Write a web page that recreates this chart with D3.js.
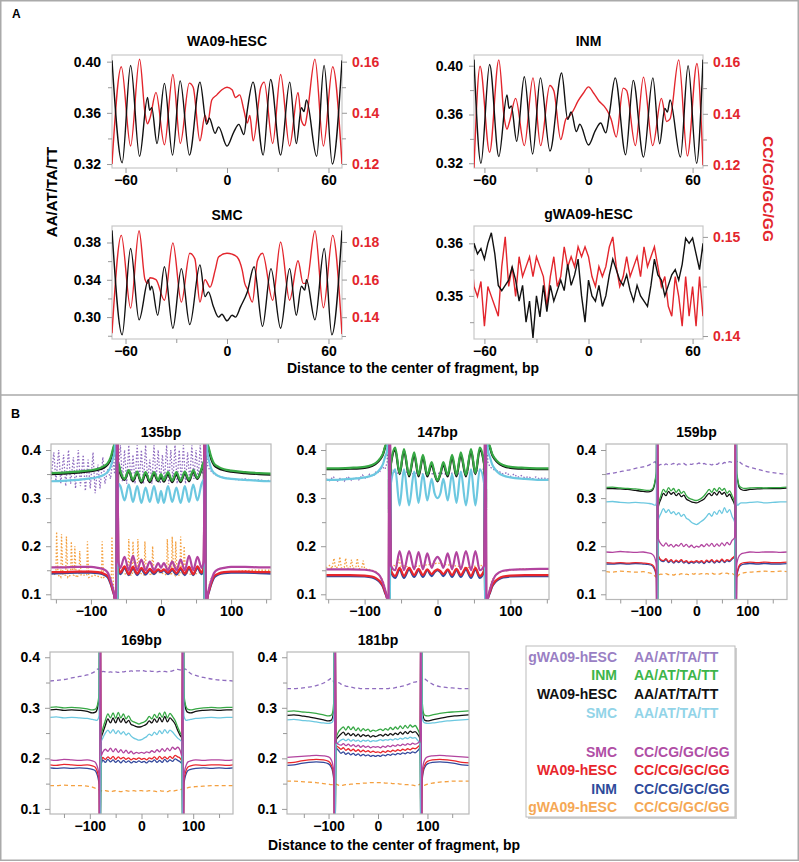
<!DOCTYPE html>
<html><head><meta charset="utf-8">
<script src="https://cdn.jsdelivr.net/npm/d3@7"></script>
<style>
body{margin:0;background:#fff;}
text{font-family:"Liberation Sans",Arial,Helvetica,sans-serif;font-weight:bold;}
</style></head>
<body><svg id="chart" width="799" height="862"></svg>
<script>
// ---------- panel A data : [bp, frequency] ----------
var wa09Black = [[-68,.401],[-62,.321],[-57,.397],[-51.7,.326],[-47,.372],[-45.8,.362],[-44.5,.364],[-41.4,.336],[-37,.383],[-32.2,.327],[-27.7,.385],[-22.2,.327],[-16,.384],[-12,.351],[-10.5,.356],[-7,.344],[-5,.349],[0,.334],[4,.345],[7,.351],[10,.343],[12,.362],[15.4,.384],[21.4,.327],[25.8,.386],[31.7,.327],[37.1,.384],[41,.336],[44,.364],[45.5,.361],[47,.370],[53,.326],[57.4,.397],[62.3,.320],[68,.401]];
var wa09Red = [[-68,.120],[-62.5,.158],[-57,.127],[-51.7,.161],[-48.5,.140],[-47,.1357],[-45.5,.138],[-42,.148],[-37,.1275],[-32,.155],[-27.6,.128],[-22.3,.1516],[-20,.150],[-16,.129],[-13,.139],[-11.5,.136],[-9,.145],[-6,.147],[-3,.149],[0,.150],[3,.149],[5,.146],[7.5,.147],[10,.141],[12,.136],[13.5,.139],[15.5,.129],[20,.150],[22,.152],[27,.128],[31.7,.155],[37,.127],[42,.148],[44,.137],[46,.135],[47.5,.140],[52,.161],[57,.127],[62.5,.158],[68,.120]];
var inmBlack = [[-66,.405],[-62,.320],[-57,.401],[-51.7,.3255],[-47,.376],[-45.8,.365],[-44.5,.367],[-41.4,.338],[-37,.391],[-32.2,.3276],[-27.7,.390],[-22.2,.330],[-15.5,.394],[-12,.356],[-10,.362],[-7,.346],[-5,.352],[0,.335],[4,.347],[7,.353],[10,.345],[12,.360],[15.4,.390],[21.4,.327],[25.8,.388],[31.7,.325],[37.1,.390],[41,.336],[44,.365],[45.5,.362],[47,.372],[53,.325],[57.4,.400],[62.3,.320],[66,.405]];
var inmRed = [[-66,.119],[-62.5,.1585],[-57,.125],[-51.7,.161],[-48.5,.138],[-47,.134],[-45.5,.137],[-42,.146],[-37,.1276],[-32,.154],[-27.6,.1276],[-22.3,.151],[-20,.149],[-16,.130],[-13,.138],[-11,.139],[-9,.141],[-6,.145],[-3,.148],[0,.1505],[3,.148],[6,.145],[9,.143],[11,.141],[13,.138],[16,.131],[20,.150],[22,.149],[27,.1276],[31.7,.1543],[37,.1276],[42,.146],[45,.137],[47,.138],[52,.161],[57,.1236],[62.5,.1596],[66,.120]];
var smcBlack = [[-68,.393],[-62,.281],[-57,.3736],[-52,.297],[-46.5,.340],[-45.5,.329],[-44.5,.333],[-41,.302],[-37,.354],[-32,.288],[-27,.352],[-22,.292],[-16,.356],[-13,.322],[-11,.327],[-8,.311],[-5,.300],[-3,.303],[0,.296],[3,.302],[5,.300],[8,.311],[12,.327],[16,.354],[21,.290],[26,.352],[31.7,.288],[37,.352],[41,.302],[44,.333],[46,.329],[47,.340],[52,.297],[57.5,.3736],[62,.281],[68,.393]];
var smcRed = [[-68,.1315],[-62.5,.1835],[-57,.1448],[-52,.186],[-48.5,.160],[-47,.158],[-45.5,.161],[-42,.160],[-37,.149],[-32,.1795],[-27,.148],[-22,.174],[-19,.171],[-16,.148],[-13,.160],[-10,.156],[-7,.165],[-5,.172],[0,.174],[3,.1735],[6,.172],[9,.165],[10.5,.158],[12,.155],[15,.148],[18,.170],[21,.174],[27,.149],[31.7,.180],[37,.149],[42,.170],[45,.158],[47,.158],[52,.186],[57,.145],[62.5,.1835],[68,.131]];
var gBp = d3.range(-68, 69, 2);
var gBlack = [.3505,.360,.358,.359,.357,.360,.362,.358,.352,.351,.352,.353,.3555,.353,.349,.352,.345,.349,.342,.350,.346,.352,.347,.352,.349,.351,.353,.351,.356,.352,.354,.357,.350,.345,.353,.350,.349,.352,.348,.350,.354,.357,.355,.353,.352,.354,.351,.349,.352,.350,.349,.348,.352,.357,.354,.353,.350,.352,.354,.355,.353,.356,.361,.360,.361,.358,.355,.360,.350];
var gRed = [.149,.145,.144,.1455,.141,.145,.144,.143,.142,.147,.150,.145,.147,.144,.148,.146,.147,.148,.146,.148,.147,.146,.143,.146,.148,.145,.146,.149,.147,.148,.147,.149,.148,.149,.148,.146,.145,.147,.146,.147,.149,.150,.147,.145,.146,.148,.146,.147,.148,.146,.149,.147,.148,.149,.147,.145,.146,.143,.142,.146,.144,.141,.146,.142,.145,.141,.146,.142,.145];

// ---------- panel B data ----------
var grid135 = [-157,-140,-120,-100,-90,-82,-76,-72,-69,-66, -64,-63, -61,-58,-52,-46,-40,-34,-28,-22,-16,-10,-4,0,4,10,16,22,28,34,40,46,52,58,61, 63,64, 66,69,72,76,82,90,100,120,140,157];
var b135Black = [.350,.351,.353,.356,.359,.363,.370,.380,.395,.420, .6,0, .370,.352,.338,.356,.335,.352,.332,.350,.333,.350,.335,.345,.334,.350,.333,.350,.333,.352,.335,.355,.340,.360,.372, 0,.6, .420,.395,.380,.368,.362,.358,.355,.352,.350,.349];
var b135Green = [.352,.353,.355,.358,.361,.366,.373,.384,.400,.420, .6,0, .374,.356,.340,.358,.338,.355,.335,.354,.336,.354,.337,.350,.337,.354,.336,.354,.336,.355,.338,.358,.342,.362,.376, 0,.6, .420,.400,.384,.371,.365,.360,.357,.354,.352,.351];
var b135Cyan = [.335,.336,.338,.341,.344,.348,.355,.365,.380,.400, .6,0, .330,.325,.295,.328,.292,.325,.290,.322,.292,.325,.290,.315,.290,.325,.292,.322,.290,.325,.292,.328,.295,.330,.338, 0,.6, .400,.375,.360,.352,.346,.342,.340,.338,.336,.335];
var b135Magenta = [.156,.156,.157,.157,.155,.152,.145,.130,.115,.090, 0,.6, .170,.155,.178,.150,.180,.150,.172,.150,.168,.150,.165,.155,.165,.150,.168,.150,.172,.150,.180,.150,.178,.155,.170, .6,0, .090,.115,.130,.145,.152,.155,.157,.157,.156,.156];
var b135Red = [.146,.146,.147,.147,.146,.143,.138,.125,.110,.090, 0,.6, .160,.145,.158,.142,.157,.143,.155,.144,.153,.145,.152,.148,.152,.145,.153,.144,.155,.143,.157,.142,.158,.145,.160, .6,0, .090,.110,.125,.138,.143,.146,.147,.147,.146,.146];
var b135Blue = [.143,.144,.145,.145,.144,.141,.135,.122,.108,.090, 0,.6, .155,.142,.155,.140,.154,.140,.152,.141,.150,.142,.150,.146,.150,.142,.150,.141,.152,.140,.154,.140,.155,.142,.155, .6,0, .090,.108,.122,.135,.141,.144,.145,.145,.144,.143];
var b135Purple = [[-157,.340],[-153,.395],[-150,.335],[-146,.400],[-143,.330],[-139,.390],[-136,.325],[-132,.400],[-129,.330],[-125,.385],[-122,.320],[-118,.400],[-115,.325],[-111,.390],[-108,.315],[-104,.380],[-101,.320],[-97,.395],[-94,.310],[-90,.370],[-87,.320],[-83,.385],[-80,.330],[-76,.360],[-72,.340],[-69,.380],[-66,.350],[-64,.6],[-63,0],
 [-61,.360],[-58,.410],[-55,.335],[-52,.400],[-49,.330],[-46,.410],[-43,.335],[-40,.390],[-37,.330],[-34,.410],[-31,.335],[-28,.400],[-25,.330],[-22,.410],[-19,.335],[-16,.380],[-13,.330],[-10,.410],[-7,.335],[-4,.400],[-1,.330],[2,.390],[5,.335],[8,.410],[11,.330],[14,.400],[17,.335],[20,.410],[23,.330],[26,.400],[29,.335],[32,.410],[35,.330],[38,.395],[41,.335],[44,.410],[47,.340],[50,.400],[53,.340],[56,.410],[59,.350],[61,.360],[63,0],[64,.6],
 [66,.370],[69,.360],[72,.355],[76,.350],[82,.345],[90,.343],[100,.340],[110,.338],[120,.340],[130,.337],[140,.338],[150,.336],[157,.337]];
var b135Orange = [[-157,.145],[-150,.140],[-149,.230],[-147,.140],[-143,.135],[-142,.225],[-140,.140],[-136,.140],[-135,.220],[-133,.135],[-129,.140],[-128,.210],[-126,.140],[-124,.140],[-123,.200],[-121,.135],[-117,.140],[-116,.190],[-114,.140],[-106,.140],[-105,.210],[-103,.135],[-95,.140],[-85,.135],[-84,.210],[-82,.135],[-74,.140],[-71,.130],[-70,.220],[-68,.120],[-66,.090],[-64,0],[-63,.6],
 [-61,.150],[-55,.145],[-47,.140],[-46,.215],[-44,.140],[-41,.140],[-40,.210],[-38,.145],[-34,.140],[-33,.215],[-31,.145],[-24,.140],[-23,.210],[-21,.145],[-13,.140],[-12,.200],[-10,.145],[0,.145],[8,.140],[9,.215],[11,.145],[15,.140],[16,.220],[18,.145],[20,.140],[21,.210],[23,.140],[27,.140],[28,.220],[30,.145],[32,.140],[33,.200],[35,.145],[45,.140],[55,.145],[61,.150],[63,.6],[64,0],
 [66,.090],[69,.120],[72,.135],[80,.140],[90,.145],[110,.148],[130,.150],[157,.150]];

var grid147 = [-153,-140,-120,-100,-90,-84,-79,-75,-72,-69, -67,-66, -64,-58,-52,-46,-39,-32,-26,-20,-14,-8,-4,0,4,8,14,20,26,32,39,46,52,58,64, 66,67, 69,72,75,79,84,90,100,120,140,153];
var b147Black = [.360,.360,.361,.363,.367,.372,.380,.390,.405,.420, .6,0, .370,.400,.350,.398,.345,.390,.345,.385,.345,.370,.350,.335,.350,.370,.345,.385,.345,.390,.345,.398,.350,.400,.370, 0,.6, .420,.405,.390,.380,.372,.367,.363,.361,.360,.360];
var b147Green = [.362,.362,.363,.365,.369,.374,.382,.392,.407,.420, .6,0, .372,.405,.352,.402,.348,.395,.348,.390,.348,.375,.352,.337,.352,.375,.348,.390,.348,.395,.348,.402,.352,.405,.372, 0,.6, .420,.407,.392,.382,.374,.369,.365,.363,.362,.362];
var b147Cyan = [.338,.338,.340,.343,.347,.352,.360,.370,.385,.400, .6,0, .330,.360,.285,.360,.285,.355,.290,.350,.295,.340,.310,.300,.310,.340,.295,.350,.290,.355,.285,.360,.285,.360,.330, 0,.6, .400,.385,.370,.360,.352,.347,.343,.340,.338,.338];
var b147Magenta = [.152,.152,.152,.151,.149,.145,.138,.125,.110,.090, 0,.6, .160,.150,.190,.150,.190,.152,.188,.152,.185,.155,.170,.178,.170,.155,.185,.152,.188,.152,.190,.150,.190,.150,.160, .6,0, .090,.110,.125,.138,.145,.149,.151,.152,.153,.153];
var b147Red = [.140,.140,.140,.139,.137,.133,.127,.118,.105,.090, 0,.6, .150,.138,.155,.138,.155,.140,.153,.140,.152,.142,.148,.152,.148,.142,.152,.140,.153,.140,.155,.138,.155,.138,.150, .6,0, .090,.105,.118,.127,.133,.137,.139,.140,.140,.140];
var b147Blue = [.138,.138,.138,.137,.135,.131,.125,.116,.103,.090, 0,.6, .148,.134,.152,.134,.152,.136,.150,.136,.150,.138,.146,.150,.146,.138,.150,.136,.150,.136,.152,.134,.152,.134,.148, .6,0, .090,.103,.116,.125,.131,.135,.137,.138,.138,.138];
var b147Purple = [[-153,.340],[-148,.336],[-143,.345],[-138,.334],[-133,.342],[-128,.335],[-123,.345],[-118,.337],[-113,.343],[-108,.338],[-103,.348],[-98,.340],[-93,.350],[-88,.345],[-84,.356],[-80,.352],[-76,.365],[-72,.360],[-69,.375],[-67,.6],[-66,0],
 [-64,.360],[-60,.355],[-52,.350],[-44,.355],[-36,.350],[-28,.352],[-20,.350],[-12,.352],[-4,.350],[4,.352],[12,.350],[20,.352],[28,.350],[36,.355],[44,.352],[52,.355],[60,.360],[64,.360],[66,0],[67,.6],
 [69,.375],[72,.365],[76,.360],[80,.358],[85,.355],[90,.350],[95,.353],[100,.345],[105,.350],[110,.343],[115,.347],[120,.342],[125,.345],[130,.340],[135,.344],[140,.340],[145,.342],[153,.340]];
var b147Orange = [[-153,.155],[-148,.160],[-145,.153],[-142,.175],[-140,.155],[-136,.157],[-134,.178],[-132,.155],[-128,.156],[-126,.175],[-124,.154],[-120,.155],[-118,.172],[-116,.154],[-112,.156],[-110,.175],[-108,.153],[-104,.155],[-102,.170],[-100,.153],[-95,.152],[-90,.150],[-85,.148],[-80,.140],[-75,.130],[-72,.115],[-69,.090],[-67,0],[-66,.6],
 [-64,.155],[-60,.160],[-56,.158],[-53,.172],[-50,.158],[-44,.160],[-40,.155],[-30,.158],[-20,.160],[-10,.162],[0,.165],[10,.162],[20,.160],[30,.158],[40,.155],[50,.158],[60,.160],[64,.155],[66,.6],[67,0],
 [69,.090],[72,.115],[75,.130],[80,.140],[85,.145],[90,.148],[100,.150],[110,.152],[120,.153],[130,.152],[140,.153],[153,.152]];

var grid159 = [-178,-165,-150,-135,-120,-105,-95,-88,-84,-81,-79, -78,-77, -75,-70,-65,-60,-55,-50,-45,-40,-35,-30,-25,-20,-15,-10,-5,0,5,10,15,20,25,30,35,40,45,50,55,60,65,70,75, 77,78, 79,81,84,88,95,105,120,135,150,165,178];
var b159Green = [.322,.323,.321,.320,.319,.317,.316,.318,.325,.340,.355, .6,0, .285,.305,.318,.312,.322, .315,.320,.312,.318,.310, .314,.305,.300,.298,.296, .295,.297,.300,.305,.312, .318,.312,.320,.314,.322, .316,.320,.310,.315,.305, .290, 0,.6, .355,.340,.326,.322,.320,.321,.322,.321,.322,.322,.323];
var b159Black = [.320,.320,.319,.318,.316,.314,.313,.315,.322,.336,.350, .6,0, .282,.298,.310,.305,.314, .308,.312,.305,.310,.303, .306,.298,.295,.292,.291, .290,.292,.295,.298,.305, .310,.305,.312,.306,.314, .308,.312,.303,.308,.298, .286, 0,.6, .350,.336,.322,.318,.316,.318,.319,.320,.320,.320,.321];
var b159Cyan = [.292,.293,.291,.290,.291,.290,.289,.288,.286,.285,.290, .6,0, .254,.268,.278,.270,.276, .268,.272,.265,.270,.262, .266,.258,.255,.250,.247, .245,.248,.252,.256,.262, .268,.262,.272,.266,.275, .268,.280,.270,.276,.262, .250, 0,.6, .290,.285,.288,.290,.290,.291,.292,.290,.291,.292,.292];
var b159Magenta = [.188,.187,.189,.188,.187,.188,.186,.184,.180,.172,.160, 0,.6, .215,.205,.200,.207,.200, .204,.198,.203,.200,.206, .199,.204,.198,.202,.197, .200,.198,.203,.199,.205, .200,.206,.199,.205,.200, .207,.201,.208,.203,.212, .218, .6,0, .160,.172,.180,.184,.186,.188,.187,.188,.188,.187,.188];
var b159Red = [.166,.165,.166,.165,.166,.165,.164,.162,.158,.150,.138, 0,.6, .180,.172,.170,.174,.168, .172,.167,.171,.168,.172, .167,.170,.166,.169,.167, .170,.167,.170,.166,.171, .168,.172,.167,.171,.168, .173,.168,.172,.170,.175, .180, .6,0, .138,.150,.160,.164,.166,.167,.166,.167,.166,.166,.167];
var b159Blue = [.163,.163,.164,.163,.164,.163,.162,.160,.155,.147,.135, 0,.6, .178,.170,.168,.172,.166, .170,.165,.169,.166,.170, .165,.168,.164,.167,.165, .168,.165,.168,.164,.169, .166,.170,.165,.169,.166, .171,.166,.170,.168,.173, .178, .6,0, .135,.147,.157,.161,.163,.164,.163,.164,.163,.163,.164];
var b159Orange = [.147,.146,.148,.147,.146,.147,.145,.143,.140,.137,.135, .135,.138, .140,.142,.141,.143,.141, .142,.140,.142,.141,.143, .140,.142,.141,.143,.142, .144,.142,.143,.141,.143, .142,.144,.142,.143,.142, .144,.143,.144,.142,.143, .140, .138,.135, .135,.138,.141,.143,.145,.146,.147,.148,.147,.148,.147];
var b159Purple = [.350,.352,.355,.358,.362,.365,.368,.372,.374,.376,.370, .370,.369, .368,.370,.368,.371,.369, .370,.372,.368,.371,.370, .372,.369,.371,.370,.372, .371,.373,.370,.372,.370, .371,.369,.372,.370,.373, .371,.374,.372,.376,.374, .372, .372,.375, .375,.378,.376,.372,.368,.364,.360,.356,.353,.351,.350];

var grid169 = [-177,-165,-150,-135,-120,-105,-95,-90,-87,-84,-82, -81,-80, -78,-75,-70,-65,-60,-55,-50,-45,-40,-35,-30,-25,-20,-15,-10,-5,0,5,10,15,20,25,30,35,40,45,50,55,60,65,70,75,78, 80,81, 82,84,87,90,95,105,120,135,150,165,177];
var b169Green = [.301,.302,.300,.301,.300,.298,.296,.297,.300,.312,.330, .6,0, .245, .258,.275,.288,.280,.290, .279,.291,.280,.288,.278, .284,.275,.272,.270,.268, .270,.272,.276,.283,.278, .287,.280,.290,.281,.292, .280,.289,.283,.275,.262, .250, .245, 0,.6, .330,.312,.300,.297,.296,.298,.300,.301,.300,.301,.301];
var b169Black = [.296,.297,.295,.296,.295,.293,.290,.291,.294,.305,.322, .6,0, .240, .250,.265,.278,.270,.280, .270,.281,.271,.279,.270, .275,.267,.265,.263,.262, .263,.265,.268,.274,.270, .278,.271,.281,.272,.283, .272,.280,.275,.268,.255, .245, .240, 0,.6, .322,.305,.294,.291,.290,.293,.295,.296,.295,.296,.296];
var b169Cyan = [.281,.282,.280,.281,.280,.279,.277,.276,.275,.278,.285, .6,0, .232, .240,.250,.256,.250,.257, .249,.255,.248,.253,.246, .250,.244,.240,.238,.236, .237,.240,.243,.248,.245, .252,.247,.255,.249,.257, .250,.256,.252,.246,.240, .236, .232, 0,.6, .285,.278,.275,.276,.277,.279,.280,.281,.280,.281,.281];
var b169Magenta = [.197,.196,.198,.197,.196,.197,.195,.193,.188,.178,.165, 0,.6, .205, .212,.218,.214,.220,.213, .219,.212,.217,.211,.216, .210,.214,.209,.212,.210, .212,.210,.213,.211,.215, .212,.217,.213,.219,.214, .220,.215,.222,.218,.222, .215, .205, .6,0, .165,.178,.188,.193,.195,.197,.196,.197,.197,.196,.197];
var b169Red = [.187,.186,.188,.187,.186,.187,.185,.183,.178,.168,.155, 0,.6, .195, .202,.198,.203,.199,.204, .198,.203,.199,.202,.198, .201,.197,.200,.198,.201, .198,.200,.197,.201,.199, .203,.198,.204,.199,.203, .199,.204,.200,.206,.203, .200, .195, .6,0, .155,.168,.178,.183,.185,.187,.186,.187,.187,.186,.187];
var b169Blue = [.181,.180,.181,.180,.181,.180,.178,.176,.171,.161,.148, 0,.6, .190, .197,.192,.198,.193,.197, .192,.196,.191,.196,.192, .195,.191,.194,.192,.195, .192,.194,.191,.195,.193, .197,.192,.196,.192,.198, .193,.197,.194,.199,.196, .193, .190, .6,0, .148,.161,.171,.176,.178,.180,.181,.180,.181,.180,.181];
var b169Orange = [.146,.146,.147,.146,.146,.145,.143,.141,.140,.139,.138, .138,.137, .136, .135,.136,.135,.134,.135, .136,.135,.134,.135,.136, .135,.135,.136,.135,.136, .136,.135,.135,.136,.135, .135,.134,.136,.135,.135, .134,.136,.135,.136,.137, .138, .139, .140,.141, .141,.140,.141,.142,.143,.144,.145,.146,.146,.146,.146];
var b169Purple = [.353,.354,.356,.359,.362,.365,.369,.372,.375,.377,.376, .375,.372, .370, .372,.371,.370,.371,.370, .371,.370,.372,.371,.372, .372,.373,.372,.373,.373, .374,.373,.372,.373,.372, .372,.371,.372,.371,.372, .371,.372,.373,.375,.376, .375, .374, .373,.375, .376,.377,.375,.372,.368,.364,.360,.357,.355,.354,.353];

var grid181 = [-184,-170,-155,-140,-125,-110,-100,-95,-92,-90,-89, -88,-87, -85,-80,-75,-70,-65,-60,-55,-50,-45,-40,-35,-30,-25,-20,-15,-10,-5,0,5,10,15,20,25,30,35,40,45,50,55,60,65,70,75,80,85, 87,88, 89,90,92,95,100,110,125,140,155,170,184];
var b181Green = [.293,.294,.292,.291,.289,.286,.284,.285,.290,.305,.320, .6,0, .238,.252, .258,.262,.256,.263,.257, .262,.255,.260,.254,.259, .255,.258,.253,.256,.254, .256,.258,.255,.259,.256, .261,.257,.262,.258,.264, .259,.265,.260,.266,.262, .265, .258,.245, 0,.6, .320,.305,.290,.285,.284,.286,.289,.291,.292,.293,.294];
var b181Black = [.285,.286,.284,.282,.279,.276,.274,.275,.280,.292,.305, .6,0, .235,.243, .248,.252,.246,.250,.245, .249,.244,.248,.243,.247, .244,.246,.242,.245,.243, .245,.247,.244,.248,.245, .249,.246,.250,.247,.252, .248,.253,.249,.254,.251, .253, .248,.238, 0,.6, .305,.292,.280,.275,.274,.276,.279,.282,.284,.285,.286];
var b181Cyan = [.276,.277,.275,.274,.272,.270,.269,.270,.272,.280,.290, .6,0, .226,.232, .236,.238,.235,.238,.234, .237,.234,.236,.233,.236, .234,.236,.233,.235,.234, .235,.237,.235,.237,.236, .238,.236,.239,.237,.240, .238,.241,.239,.242,.240, .241, .236,.228, 0,.6, .290,.280,.272,.270,.269,.270,.272,.274,.275,.276,.277];
var b181Magenta = [.202,.203,.204,.205,.206,.205,.203,.198,.190,.178,.165, 0,.6, .232,.228, .226,.229,.225,.228,.224, .227,.223,.226,.222,.225, .222,.224,.221,.223,.222, .223,.221,.224,.222,.225, .223,.226,.224,.227,.225, .228,.226,.229,.227,.230, .228, .230,.234, .6,0, .165,.178,.190,.198,.203,.205,.206,.205,.204,.203,.202];
var b181Red = [.191,.192,.195,.197,.198,.197,.194,.188,.180,.168,.155, 0,.6, .226,.222, .218,.221,.216,.219,.215, .218,.214,.217,.213,.216, .213,.215,.212,.214,.212, .213,.211,.214,.212,.215, .213,.216,.214,.217,.215, .218,.216,.219,.217,.220, .219, .222,.228, .6,0, .155,.168,.180,.188,.194,.197,.198,.197,.195,.192,.191];
var b181Blue = [.186,.187,.190,.192,.193,.192,.189,.183,.175,.163,.150, 0,.6, .222,.216, .210,.213,.208,.211,.207, .210,.206,.209,.205,.208, .205,.207,.204,.206,.204, .206,.204,.207,.205,.208, .206,.209,.207,.210,.208, .211,.209,.212,.210,.213, .211, .215,.222, .6,0, .150,.163,.175,.183,.189,.192,.193,.192,.190,.187,.186];
var b181Orange = [.155,.155,.154,.153,.152,.150,.149,.148,.148,.149,.150, .150,.150, .149,.147, .146,.147,.148,.148,.149, .149,.150,.150,.150,.151, .151,.151,.152,.152,.152, .152,.152,.152,.151,.151, .151,.150,.150,.150,.149, .149,.148,.148,.147,.147, .146, .147,.149, .150,.150, .149,.147,.146,.147,.149,.151,.153,.154,.155,.155,.155];
var b181Purple = [.338,.338,.339,.341,.344,.349,.355,.358,.356,.352,.350, .349,.348, .348,.350, .347,.345,.343,.342,.341, .340,.339,.339,.338,.338, .338,.338,.338,.338,.338, .338,.338,.338,.338,.338, .339,.339,.340,.341,.342, .343,.344,.346,.348,.350, .351, .352,.353, .357,.358, .359,.360,.359,.357,.353,.347,.342,.340,.339,.338,.338];

var legendSamples = ["gWA09-hESC","INM","WA09-hESC","SMC","SMC","WA09-hESC","INM","gWA09-hESC"];
var legendMotifs = ["AA/AT/TA/TT","AA/AT/TA/TT","AA/AT/TA/TT","AA/AT/TA/TT","CC/CG/GC/GG","CC/CG/GC/GG","CC/CG/GC/GG","CC/CG/GC/GG"];

// ---------- colours ----------
var col = {
	purple: "#8f6cbf", green: "#37a845", black: "#111111", cyan: "#6cc8e0",
	magenta: "#b2449f", red: "#e8262c", blue: "#33489c", orange: "#f4a040"
};
var legendColors = ["#9a7fc4","#3db54a","#111111","#92d4e8","#b04ea5","#e8262c","#2f4b9b","#f5a855"];
var RED_A = "#e3262d";

var svg = d3.select("#chart");
var defs = svg.append("defs");

// frame and separator
svg.append("rect").attr("x", 0.75).attr("y", 0.75).attr("width", 797.5).attr("height", 859.5)
	.attr("fill", "none").attr("stroke", "#aaa").attr("stroke-width", 1.5);
svg.append("line").attr("x1", 0).attr("x2", 799).attr("y1", 395).attr("y2", 395)
	.attr("stroke", "#aaa").attr("stroke-width", 1.5);
svg.append("text").attr("x", 12).attr("y", 18).attr("font-size", 12).text("A");
svg.append("text").attr("x", 11).attr("y", 418).attr("font-size", 12.5).text("B");

function styleAxis(sel, color, size) {
	sel.select(".domain").remove();
	sel.selectAll(".tick line").attr("stroke", "#999");
	sel.selectAll(".tick text").attr("fill", color).attr("font-size", size)
		.attr("font-family", null).attr("font-weight", "bold");
}

function minorTicks(g, axisFn, scale, vals, transform) {
	g.append("g").attr("transform", transform)
		.call(axisFn(scale).tickValues(vals).tickSize(4).tickFormat(""))
		.call(function(s){ styleAxis(s, "#000", 14); });
}

// ---------- panel A ----------
var panelsA = [
	{title: "WA09-hESC", x0: 112, x1: 342, y0: 55, y1: 168, ty: 46, dom: [-68, 68],
	 bDom: [0.3169, 0.4052], rDom: [0.1184, 0.1626], bTicks: [0.32, 0.36, 0.40], bMinor: [0.34, 0.38],
	 rTicks: [0.12, 0.14, 0.16], rMinor: [0.13, 0.15], fmt: ".2f", black: wa09Black, red: wa09Red, smooth: true},
	{title: "INM", x0: 474, x1: 703, y0: 55, y1: 168, ty: 46, dom: [-66, 66],
	 bDom: [0.3161, 0.4088], rDom: [0.1189, 0.1629], bTicks: [0.32, 0.36, 0.40], bMinor: [0.34, 0.38],
	 rTicks: [0.12, 0.14, 0.16], rMinor: [0.13, 0.15], fmt: ".2f", black: inmBlack, red: inmRed, smooth: true},
	{title: "SMC", x0: 112, x1: 342, y0: 226, y1: 339, ty: 220, dom: [-68, 68],
	 bDom: [0.2765, 0.3977], rDom: [0.1284, 0.1885], bTicks: [0.30, 0.34, 0.38], bMinor: [0.28, 0.32, 0.36],
	 rTicks: [0.14, 0.16, 0.18], rMinor: [0.13, 0.15, 0.17], fmt: ".2f", black: smcBlack, red: smcRed, smooth: true},
	{title: "gWA09-hESC", x0: 474, x1: 703, y0: 226, y1: 339, ty: 219, dom: [-66, 66],
	 bDom: [0.3418, 0.3633], rDom: [0.1397, 0.1511], bTicks: [0.35, 0.36], bMinor: [0.345, 0.355],
	 rTicks: [0.14, 0.15], rMinor: [0.145], fmt: ".2f",
	 black: d3.zip(gBp, gBlack), red: d3.zip(gBp, gRed), smooth: false}
];

panelsA.forEach(function(p, k) {
	var g = svg.append("g");
	var x = d3.scaleLinear().domain(p.dom).range([p.x0, p.x1]);
	var yL = d3.scaleLinear().domain(p.bDom).range([p.y1, p.y0]);
	var yR = d3.scaleLinear().domain(p.rDom).range([p.y1, p.y0]);
	var id = "clipA" + k;
	defs.append("clipPath").attr("id", id).append("rect")
		.attr("x", p.x0).attr("y", p.y0).attr("width", p.x1 - p.x0).attr("height", p.y1 - p.y0);

	g.append("rect").attr("x", p.x0).attr("y", p.y0).attr("width", p.x1 - p.x0).attr("height", p.y1 - p.y0)
		.attr("fill", "#fff").attr("stroke", "#c8c8c8").attr("stroke-width", 1.2);

	var curve = p.smooth ? d3.curveMonotoneX : d3.curveLinear;
	var lines = g.append("g").attr("clip-path", "url(#" + id + ")");
	lines.append("path").datum(p.red)
		.attr("d", d3.line().x(function(d){ return x(d[0]); }).y(function(d){ return yR(d[1]); }).curve(curve))
		.attr("fill", "none").attr("stroke", RED_A).attr("stroke-width", 1.4);
	lines.append("path").datum(p.black)
		.attr("d", d3.line().x(function(d){ return x(d[0]); }).y(function(d){ return yL(d[1]); }).curve(curve))
		.attr("fill", "none").attr("stroke", "#111").attr("stroke-width", 1.4);

	g.append("g").attr("transform", "translate(" + p.x0 + ",0)")
		.call(d3.axisLeft(yL).tickValues(p.bTicks).tickFormat(d3.format(p.fmt)).tickSize(5).tickPadding(6))
		.call(function(s){ styleAxis(s, "#000", 14); });
	minorTicks(g, d3.axisLeft, yL, p.bMinor, "translate(" + p.x0 + ",0)");
	g.append("g").attr("transform", "translate(" + p.x1 + ",0)")
		.call(d3.axisRight(yR).tickValues(p.rTicks).tickFormat(d3.format(p.fmt)).tickSize(5).tickPadding(5))
		.call(function(s){ styleAxis(s, RED_A, 14); });
	minorTicks(g, d3.axisRight, yR, p.rMinor, "translate(" + p.x1 + ",0)");
	g.append("g").attr("transform", "translate(0," + p.y1 + ")")
		.call(d3.axisBottom(x).tickValues([-60, 0, 60]).tickSize(5).tickPadding(2))
		.call(function(s){ styleAxis(s, "#000", 14); });
	minorTicks(g, d3.axisBottom, x, [-30, 30], "translate(0," + p.y1 + ")");

	g.append("text").attr("x", (p.x0 + p.x1) / 2).attr("y", p.ty).attr("text-anchor", "middle")
		.attr("font-size", 14).text(p.title);
});

svg.append("text").attr("transform", "translate(57,192) rotate(-90)").attr("text-anchor", "middle")
	.attr("font-size", 15).text("AA/AT/TA/TT");
svg.append("text").attr("transform", "translate(763,189) rotate(90)").attr("text-anchor", "middle")
	.attr("font-size", 15.5).attr("fill", RED_A).text("CC/CG/GC/GG");
svg.append("text").attr("x", 413).attr("y", 373).attr("text-anchor", "middle")
	.attr("font-size", 14).text("Distance to the center of fragment, bp");

// ---------- panel B ----------
var seriesB = ["purple", "orange", "blue", "red", "black", "green", "cyan", "magenta"];

var panelsB = [
	{title: "135bp", x0: 51, x1: 271, y0: 444, y1: 599.5, yDom: [0.0892, 0.4125], dom: [-157, 157], thick: true,
	 grid: grid135, vals: {black: b135Black, green: b135Green, cyan: b135Cyan, magenta: b135Magenta, red: b135Red, blue: b135Blue},
	 pairs: {purple: b135Purple, orange: b135Orange}},
	{title: "147bp", x0: 326, x1: 549, y0: 444, y1: 599.5, yDom: [0.0892, 0.4125], dom: [-153, 153], thick: true,
	 grid: grid147, vals: {black: b147Black, green: b147Green, cyan: b147Cyan, magenta: b147Magenta, red: b147Red, blue: b147Blue},
	 pairs: {purple: b147Purple, orange: b147Orange}},
	{title: "159bp", x0: 606, x1: 787, y0: 444, y1: 599.5, yDom: [0.0892, 0.4125], dom: [-178, 178], thick: false,
	 grid: grid159, vals: {black: b159Black, green: b159Green, cyan: b159Cyan, magenta: b159Magenta, red: b159Red, blue: b159Blue, orange: b159Orange, purple: b159Purple}},
	{title: "169bp", x0: 50, x1: 233, y0: 652, y1: 814, yDom: [0.0899, 0.4104], dom: [-177, 177], thick: false,
	 grid: grid169, vals: {black: b169Black, green: b169Green, cyan: b169Cyan, magenta: b169Magenta, red: b169Red, blue: b169Blue, orange: b169Orange, purple: b169Purple}},
	{title: "181bp", x0: 287, x1: 469, y0: 652, y1: 814, yDom: [0.0899, 0.4104], dom: [-184, 184], thick: false,
	 grid: grid181, vals: {black: b181Black, green: b181Green, cyan: b181Cyan, magenta: b181Magenta, red: b181Red, blue: b181Blue, orange: b181Orange, purple: b181Purple}}
];

panelsB.forEach(function(p, k) {
	var g = svg.append("g");
	var x = d3.scaleLinear().domain(p.dom).range([p.x0, p.x1]);
	var y = d3.scaleLinear().domain(p.yDom).range([p.y1, p.y0]);
	var id = "clipB" + k;
	defs.append("clipPath").attr("id", id).append("rect")
		.attr("x", p.x0).attr("y", p.y0).attr("width", p.x1 - p.x0).attr("height", p.y1 - p.y0);

	g.append("rect").attr("x", p.x0).attr("y", p.y0).attr("width", p.x1 - p.x0).attr("height", p.y1 - p.y0)
		.attr("fill", "#fff");

	var lines = g.append("g").attr("clip-path", "url(#" + id + ")");
	seriesB.forEach(function(key) {
		var spiky = p.pairs && p.pairs[key];
		var pts = spiky ? p.pairs[key] : p.grid.map(function(v, i){ return [v, p.vals[key][i]]; });
		if (!spiky && p.vals[key].length !== p.grid.length) console.log("length mismatch", p.title, key);
		var dashed = (key === "purple" || key === "orange");
		var line = d3.line()
			.defined(function(d){ return d[1] != null && !isNaN(d[1]); })
			.x(function(d){ return x(d[0]); }).y(function(d){ return y(d[1]); })
			.curve(spiky ? d3.curveLinear : d3.curveMonotoneX);
		lines.append("path").datum(pts).attr("d", line)
			.attr("fill", "none").attr("stroke", col[key])
			.attr("stroke-width", dashed ? 1.3 : (p.thick ? 2.2 : 1.3))
			.attr("stroke-dasharray", dashed ? (spiky ? "1.5,1.8" : "4,3") : null);
	});

	g.append("rect").attr("x", p.x0).attr("y", p.y0).attr("width", p.x1 - p.x0).attr("height", p.y1 - p.y0)
		.attr("fill", "none").attr("stroke", "#b8b8b8").attr("stroke-width", 1.2);

	g.append("g").attr("transform", "translate(" + p.x0 + ",0)")
		.call(d3.axisLeft(y).tickValues([0.1, 0.2, 0.3, 0.4]).tickFormat(d3.format(".1f")).tickSize(5).tickPadding(5))
		.call(function(s){ styleAxis(s, "#000", 14); });
	minorTicks(g, d3.axisLeft, y, [0.15, 0.25, 0.35], "translate(" + p.x0 + ",0)");
	g.append("g").attr("transform", "translate(0," + p.y1 + ")")
		.call(d3.axisBottom(x).tickValues([-100, 0, 100]).tickSize(5).tickPadding(2))
		.call(function(s){ styleAxis(s, "#000", 14); });
	minorTicks(g, d3.axisBottom, x, [-150, -50, 50, 150], "translate(0," + p.y1 + ")");

	g.append("text").attr("x", (p.x0 + p.x1) / 2).attr("y", p.y0 - 7).attr("text-anchor", "middle")
		.attr("font-size", 14).text(p.title);
});

svg.append("text").attr("x", 394).attr("y", 850).attr("text-anchor", "middle")
	.attr("font-size", 14).text("Distance to the center of fragment, bp");

// ---------- legend ----------
var lg = svg.append("g");
lg.append("rect").attr("x", 528).attr("y", 648).attr("width", 209).attr("height", 171)
	.attr("fill", "#d0d0d0");
lg.append("rect").attr("x", 526).attr("y", 646).attr("width", 209).attr("height", 171)
	.attr("fill", "#fff").attr("stroke", "#bbb").attr("stroke-width", 1);
legendSamples.forEach(function(name, i) {
	var yy = 661.7 + i * 18.6 + (i >= 4 ? 20.4 : 0);
	lg.append("text").attr("x", 617).attr("y", yy).attr("text-anchor", "end")
		.attr("font-size", 14).attr("fill", legendColors[i]).text(name);
	lg.append("text").attr("x", 634).attr("y", yy)
		.attr("font-size", 14).attr("fill", legendColors[i]).text(legendMotifs[i]);
});
</script>
</body></html>
